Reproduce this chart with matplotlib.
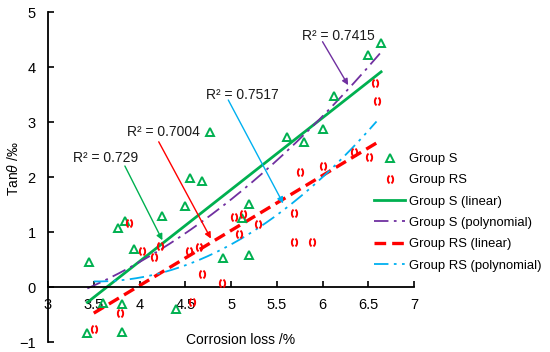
import numpy as np
import matplotlib
matplotlib.use("Agg")
import matplotlib.pyplot as plt
from matplotlib.path import Path

# --- Data -------------------------------------------------------
s_x = [3.43, 3.81, 3.81, 3.60, 3.45, 3.76, 3.84, 3.94, 4.25, 4.40, 4.50, 4.55,
       4.68, 4.91, 5.12, 5.20, 5.20, 4.77, 5.61, 5.80, 6.00, 6.13, 6.50, 6.64]
s_y = [-0.83, -0.81, -0.30, -0.29, 0.46, 1.08, 1.20, 0.69, 1.30, -0.40, 1.48, 1.98,
       1.93, 0.52, 1.25, 1.51, 0.58, 2.81, 2.73, 2.64, 2.88, 3.47, 4.21, 4.44]

rs_x = [3.50, 3.79, 3.89, 4.03, 4.16, 4.22, 4.54, 4.65, 4.57, 4.68, 4.90, 5.03,
        5.09, 5.13, 5.29, 5.75, 6.00, 6.34, 6.51, 6.57, 6.59, 5.69, 5.69, 5.89]
rs_y = [-0.76, -0.47, 1.16, 0.65, 0.54, 0.75, 0.65, 0.72, -0.28, 0.23, 0.07, 1.27,
        0.96, 1.33, 1.15, 2.10, 2.20, 2.46, 2.36, 3.71, 3.38, 1.34, 0.81, 0.81]

r2_labels = ["R² = 0.729", "R² = 0.7004", "R² = 0.7517", "R² = 0.7415"]

# --- Style --------------------------------------------------------
plt.rcParams["font.family"] = ["Liberation Sans", "DejaVu Sans"]
plt.rcParams["font.size"] = 10
plt.rcParams["mathtext.fontset"] = "custom"
plt.rcParams["mathtext.it"] = "Liberation Sans:italic"
plt.rcParams["mathtext.rm"] = "Liberation Sans"

GREEN = "#00B050"
PURPLE = "#7030A0"
RED = "#FF0000"
BLUE = "#00B0F0"

# "( )" shaped marker for group RS
t1 = np.linspace(np.radians(110), np.radians(250), 12)
t2 = np.linspace(np.radians(-70), np.radians(70), 12)
verts, codes = [], []
for t in (t1, t2):
    pts = np.column_stack([0.65 * np.cos(t), np.sin(t)])
    verts.extend(pts)
    codes.extend([Path.MOVETO] + [Path.LINETO] * (len(pts) - 1))
rs_marker = Path(verts, codes)

fig = plt.figure(figsize=(5.5, 3.52), dpi=100)
ax = fig.add_axes([0.0873, 0.0284, 0.6655, 0.9375])

ax.plot(s_x, s_y, linestyle="none", marker="^", markersize=6,
        markerfacecolor="none", markeredgecolor=GREEN, markeredgewidth=1.4,
        label="Group S", zorder=3)
ax.plot(rs_x, rs_y, linestyle="none", marker=rs_marker, markersize=5.5,
        markerfacecolor="none", markeredgecolor=RED, markeredgewidth=1.4,
        label="Group RS", zorder=3)

# Trend lines fitted to the data
sx = np.linspace(min(s_x), max(s_x), 200)
rx = np.linspace(min(rs_x), max(rs_x), 200)
ax.plot(sx, np.polyval(np.polyfit(s_x, s_y, 1), sx), color=GREEN, lw=2.0,
        label="Group S (linear)")
ax.plot(sx, np.polyval(np.polyfit(s_x, s_y, 2), sx), color=PURPLE, lw=1.3,
        dashes=(8, 3, 1.5, 3), label="Group S (polynomial)")
ax.plot(rx, np.polyval(np.polyfit(rs_x, rs_y, 1), rx), color=RED, lw=2.4,
        dashes=(3.5, 1.8), label="Group RS (linear)")
ax.plot(rx, np.polyval(np.polyfit(rs_x, rs_y, 2), rx), color=BLUE, lw=1.3,
        dashes=(8, 3, 1.5, 3, 1.5, 3), label="Group RS (polynomial)")

# R² annotations
ann = [
    (r2_labels[0], (3.63, 2.35), (3.84, 2.20), (4.25, 0.85), GREEN),
    (r2_labels[1], (4.26, 2.82), (4.21, 2.64), (4.78, 0.88), RED),
    (r2_labels[2], (5.12, 3.49), (4.97, 3.40), (5.57, 1.52), BLUE),
    (r2_labels[3], (6.17, 4.57), (6.00, 4.46), (6.28, 3.67), PURPLE),
]
for txt, tpos, start, end, c in ann:
    ax.text(tpos[0], tpos[1], txt, ha="center", va="center", fontsize=10,
            color="#1a1a1a")
    ax.annotate("", xy=end, xytext=start,
                arrowprops=dict(arrowstyle="-|>", color=c, lw=1.0,
                                mutation_scale=9, shrinkA=0, shrinkB=0))

# Axes
ax.set_xlim(3, 7)
ax.set_ylim(-1, 5)
ax.spines["bottom"].set_position(("data", 0))
ax.spines["top"].set_visible(False)
ax.spines["right"].set_visible(False)
ax.spines["left"].set_linewidth(1.3)
ax.spines["bottom"].set_linewidth(1.3)
ax.set_xticks(np.arange(3, 7.01, 0.5))
ax.set_xticklabels(["3", "3.5", "4", "4.5", "5", "5.5", "6", "6.5", "7"])
ax.set_yticks(range(-1, 6))
ax.tick_params(axis="both", direction="in", length=4, width=1.2, labelsize=10.5)
ax.tick_params(axis="x", pad=8)
ax.tick_params(axis="y", pad=9)

fig.text(14 / 550, 1 - 169 / 352, r"Tan$\it{\theta}$ /‰", rotation=90,
         ha="center", va="center", fontsize=10)
fig.text(241 / 550, 1 - 340 / 352, "Corrosion loss /%", ha="center",
         va="center", fontsize=10)

ax.legend(loc="upper left", bbox_to_anchor=(374 / 550, 1 - 153 / 352),
          bbox_transform=fig.transFigure, frameon=False, fontsize=9.4,
          handlelength=2.4, handletextpad=0.3, labelspacing=0.7,
          borderpad=0, borderaxespad=0)

fig.savefig("out.png", dpi=100)
